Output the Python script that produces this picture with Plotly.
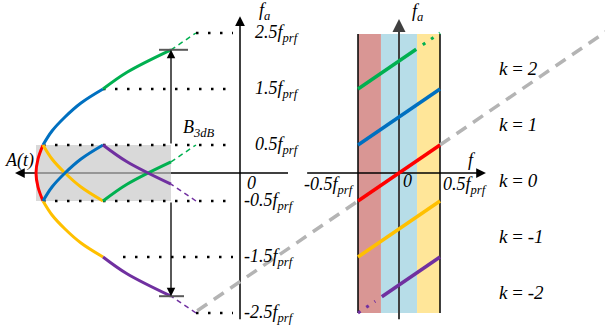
import plotly.graph_objects as go

# ---------------- data ----------------
# f_a levels in units of f_prf and their labels
levels = [2.5, 1.5, 0.5, -0.5, -1.5, -2.5]
level_labels = ["2.5", "1.5", "0.5", "-0.5", "-1.5", "-2.5"]
# dotted guide lines in the left panel (A(t) axis units)
guide_start = [196, 103, 43, 43, 123, 196]
guide_end = [233, 228, 233, 233, 233, 233]

# outer azimuth history envelope: f_a (f_prf) vs. A(t) position
env_f = [-2.5, -2.2, -1.8, -1.5, -1.25, -1.0, -0.75, -0.5, -0.25, 0.0,
         0.25, 0.5, 0.75, 1.0, 1.25, 1.5, 1.8, 2.2, 2.5]
env_x = [196, 171, 127, 103, 81, 65, 52, 43, 38, 36,
         38, 43, 52, 65, 81, 103, 127, 171, 196]

# segments of the envelope: (f_lo, f_hi, colour, aliasing shift, dashed)
RED, BLUE, GREEN, YELLOW, PURPLE = "#FF0000", "#0070C0", "#00B050", "#FFC000", "#7030A0"
segments = [
    (-0.5, 0.5, RED, 0, False),
    (0.5, 1.5, BLUE, 0, False),
    (1.5, 2.2, GREEN, 0, False),
    (2.2, 2.5, GREEN, 0, True),
    (-1.5, -0.5, YELLOW, 0, False),
    (-2.2, -1.5, PURPLE, 0, False),
    (-2.5, -2.2, PURPLE, 0, True),
    # folded (aliased) copies inside the PRF band
    (-1.5, -0.5, YELLOW, 1, False),
    (0.5, 1.5, BLUE, -1, False),
    (1.5, 2.2, GREEN, -2, False),
    (2.2, 2.5, GREEN, -2, True),
    (-2.2, -1.5, PURPLE, 2, False),
    (-2.5, -2.2, PURPLE, 2, True),
]
box_f = [-0.5, 0.5]
box_x = [36, 171]
b3db = 2.2          # +/- B_3dB/2 in f_prf
b3db_x = 171

# right panel: aliasing index k lines f_a = f + k
k_vals = [2, 1, 0, -1, -2]
k_colors = [GREEN, BLUE, RED, YELLOW, PURPLE]
k_solid_lo = [-0.5, -0.5, -0.5, -0.5, -0.21]
k_solid_hi = [0.21, 0.5, 0.5, 0.5, 0.5]
k_dot_lo = [0.29, None, None, None, -0.5]
k_dot_hi = [0.5, None, None, None, -0.29]
band_edges = [-0.5, -0.22, 0.22, 0.5]
band_colors = ["#D99694", "#B7DDE8", "#FFE699"]
ref_line_f = [-2.46, -0.5, None, 0.5, 2.53]   # unaliased f_a = f (grey dashed)

FONT = "Liberation Serif"
FS = 18

fig = go.Figure()

# ---------- shapes ----------
shapes = []
for i in range(3):
    shapes.append(dict(type="rect", xref="x2", yref="y", x0=band_edges[i], x1=band_edges[i + 1],
                       y0=-2.5, y1=2.48, fillcolor=band_colors[i], line_width=0, layer="below"))
for e in (band_edges[0], band_edges[-1]):
    shapes.append(dict(type="line", xref="x2", yref="y", x0=e, x1=e, y0=-2.5, y1=2.48,
                       line=dict(color="black", width=1.5), layer="below"))
shapes.append(dict(type="line", xref="x2", yref="y", x0=0, x1=0, y0=-2.61, y1=2.70,
                   line=dict(color="#404040", width=2), layer="below"))
shapes.append(dict(type="line", xref="x2", yref="y", x0=-1.12, x1=1.02, y0=0, y1=0,
                   line=dict(color="black", width=1.5), layer="below"))
shapes.append(dict(type="line", xref="x", yref="y", x0=240, x1=240, y0=-2.61, y1=2.76,
                   line=dict(color="black", width=1.5), layer="below"))
shapes.append(dict(type="line", xref="x", yref="y", x0=18, x1=288, y0=0, y1=0,
                   line=dict(color="black", width=1.5), layer="below"))
shapes.append(dict(type="rect", xref="x", yref="y", x0=box_x[0], x1=box_x[1], y0=box_f[0], y1=box_f[1],
                   fillcolor="rgb(197,197,197)", opacity=0.65, line_width=0, layer="below"))
shapes.append(dict(type="line", xref="x", yref="y", x0=b3db_x - 12, x1=b3db_x + 17, y0=b3db, y1=b3db,
                   line=dict(color="#595959", width=2), layer="above"))
shapes.append(dict(type="line", xref="x", yref="y", x0=b3db_x - 12, x1=b3db_x + 13, y0=-b3db, y1=-b3db,
                   line=dict(color="#595959", width=2), layer="above"))

# ---------- traces ----------
fig.add_trace(go.Scatter(x=ref_line_f, y=ref_line_f, xaxis="x2", yaxis="y", mode="lines",
                         line=dict(color="#B4B4B4", width=3.5, dash="12px,8px"), hoverinfo="skip"))

for lv, x0, x1 in zip(levels, guide_start, guide_end):
    fig.add_trace(go.Scatter(x=[x0, x1], y=[lv, lv], mode="lines",
                             line=dict(color="black", width=2.5, dash="2.5px,9.5px"), hoverinfo="skip"))

for lo, hi, col, sh, dashed in segments:
    xs = [x for f, x in zip(env_f, env_x) if lo - 1e-9 <= f <= hi + 1e-9]
    ys = [f + sh for f in env_f if lo - 1e-9 <= f <= hi + 1e-9]
    if dashed:
        line = dict(color=col, width=1.5, dash="5px,4px")
    else:
        line = dict(color=col, width=3, shape="spline")
    fig.add_trace(go.Scatter(x=xs, y=ys, mode="lines", line=line, hoverinfo="skip"))

for k, col, lo, hi, dlo, dhi in zip(k_vals, k_colors, k_solid_lo, k_solid_hi, k_dot_lo, k_dot_hi):
    fig.add_trace(go.Scatter(x=[lo, hi], y=[lo + k, hi + k], xaxis="x2", yaxis="y", mode="lines",
                             line=dict(color=col, width=3.5), hoverinfo="skip"))
    if dlo is not None:
        fig.add_trace(go.Scatter(x=[dlo, dhi], y=[dlo + k, dhi + k], xaxis="x2", yaxis="y", mode="lines",
                                 line=dict(color=col, width=3, dash="3px,7px"), hoverinfo="skip"))

# ---------- annotations ----------
ann = []


def head(x, y, ax, ay, xref="x", color="black", width=1.5):
    ann.append(dict(x=x, y=y, xref=xref, yref="y", ax=ax, ay=ay, axref="pixel", ayref="pixel",
                    showarrow=True, arrowhead=2, arrowsize=1.3, arrowwidth=width,
                    arrowcolor=color, text="", standoff=0))


head(240, 2.80, 0, 10)
head(15, 0, 10, 0)
head(0, 2.75, 0, 10, xref="x2", color="#404040", width=2)
head(1.06, 0, -10, 0, xref="x2")

for s in (1, -1):
    ann.append(dict(x=b3db_x, y=s * b3db, ax=b3db_x, ay=s * 0.5, xref="x", yref="y", axref="x", ayref="y",
                    showarrow=True, arrowhead=2, arrowsize=1.3, arrowwidth=1.3, arrowcolor="black",
                    text="", standoff=0))


def txt(x, y, s, xref="x", xanchor="left", size=FS):
    ann.append(dict(x=x, y=y, xref=xref, yref="y", text=s, showarrow=False, xanchor=xanchor,
                    yanchor="middle", font=dict(family=FONT, size=size, color="black")))


for lv, lab in zip(levels, level_labels):
    txt(253 if lv > 0 else 242, lv, f"<i>{lab}f<sub>prf</sub></i>")
txt(245, -0.17, "<i>0</i>")
txt(3, 0.23, "<i>A(t)</i>")
txt(257, 2.88, "<i>f<sub>a</sub></i>")
txt(181, 0.80, "<i>B<sub>3dB</sub></i>")
txt(0.13, 2.87, "<i>f<sub>a</sub></i>", xref="x2")
txt(0.82, 0.24, "<i>f</i>", xref="x2")
txt(-0.52, -0.22, "<i>-0.5f<sub>prf</sub></i>", xref="x2", xanchor="right")
txt(0.03, -0.15, "<i>0</i>", xref="x2")
txt(0.51, -0.22, "<i>0.5f<sub>prf</sub></i>", xref="x2")
for k in k_vals:
    txt(1.19, k - 0.13, f"<i>k</i> = <i>{k}</i>", xref="x2", size=19)

fig.update_layout(
    width=605, height=329, margin=dict(l=0, r=0, t=0, b=0),
    paper_bgcolor="white", plot_bgcolor="white", showlegend=False,
    font=dict(family=FONT, size=FS, color="black"),
    xaxis=dict(range=[0, 605], visible=False, domain=[0, 1], fixedrange=True),
    xaxis2=dict(range=[-399 / 82, 206 / 82], visible=False, overlaying="x", domain=[0, 1], fixedrange=True),
    yaxis=dict(range=[-156 / 56, 173 / 56], visible=False, fixedrange=True),
    shapes=shapes, annotations=ann,
)

fig.write_html("out.html", config={"displayModeBar": False},
               post_script="document.body.style.margin='0';document.body.style.padding='0';")
